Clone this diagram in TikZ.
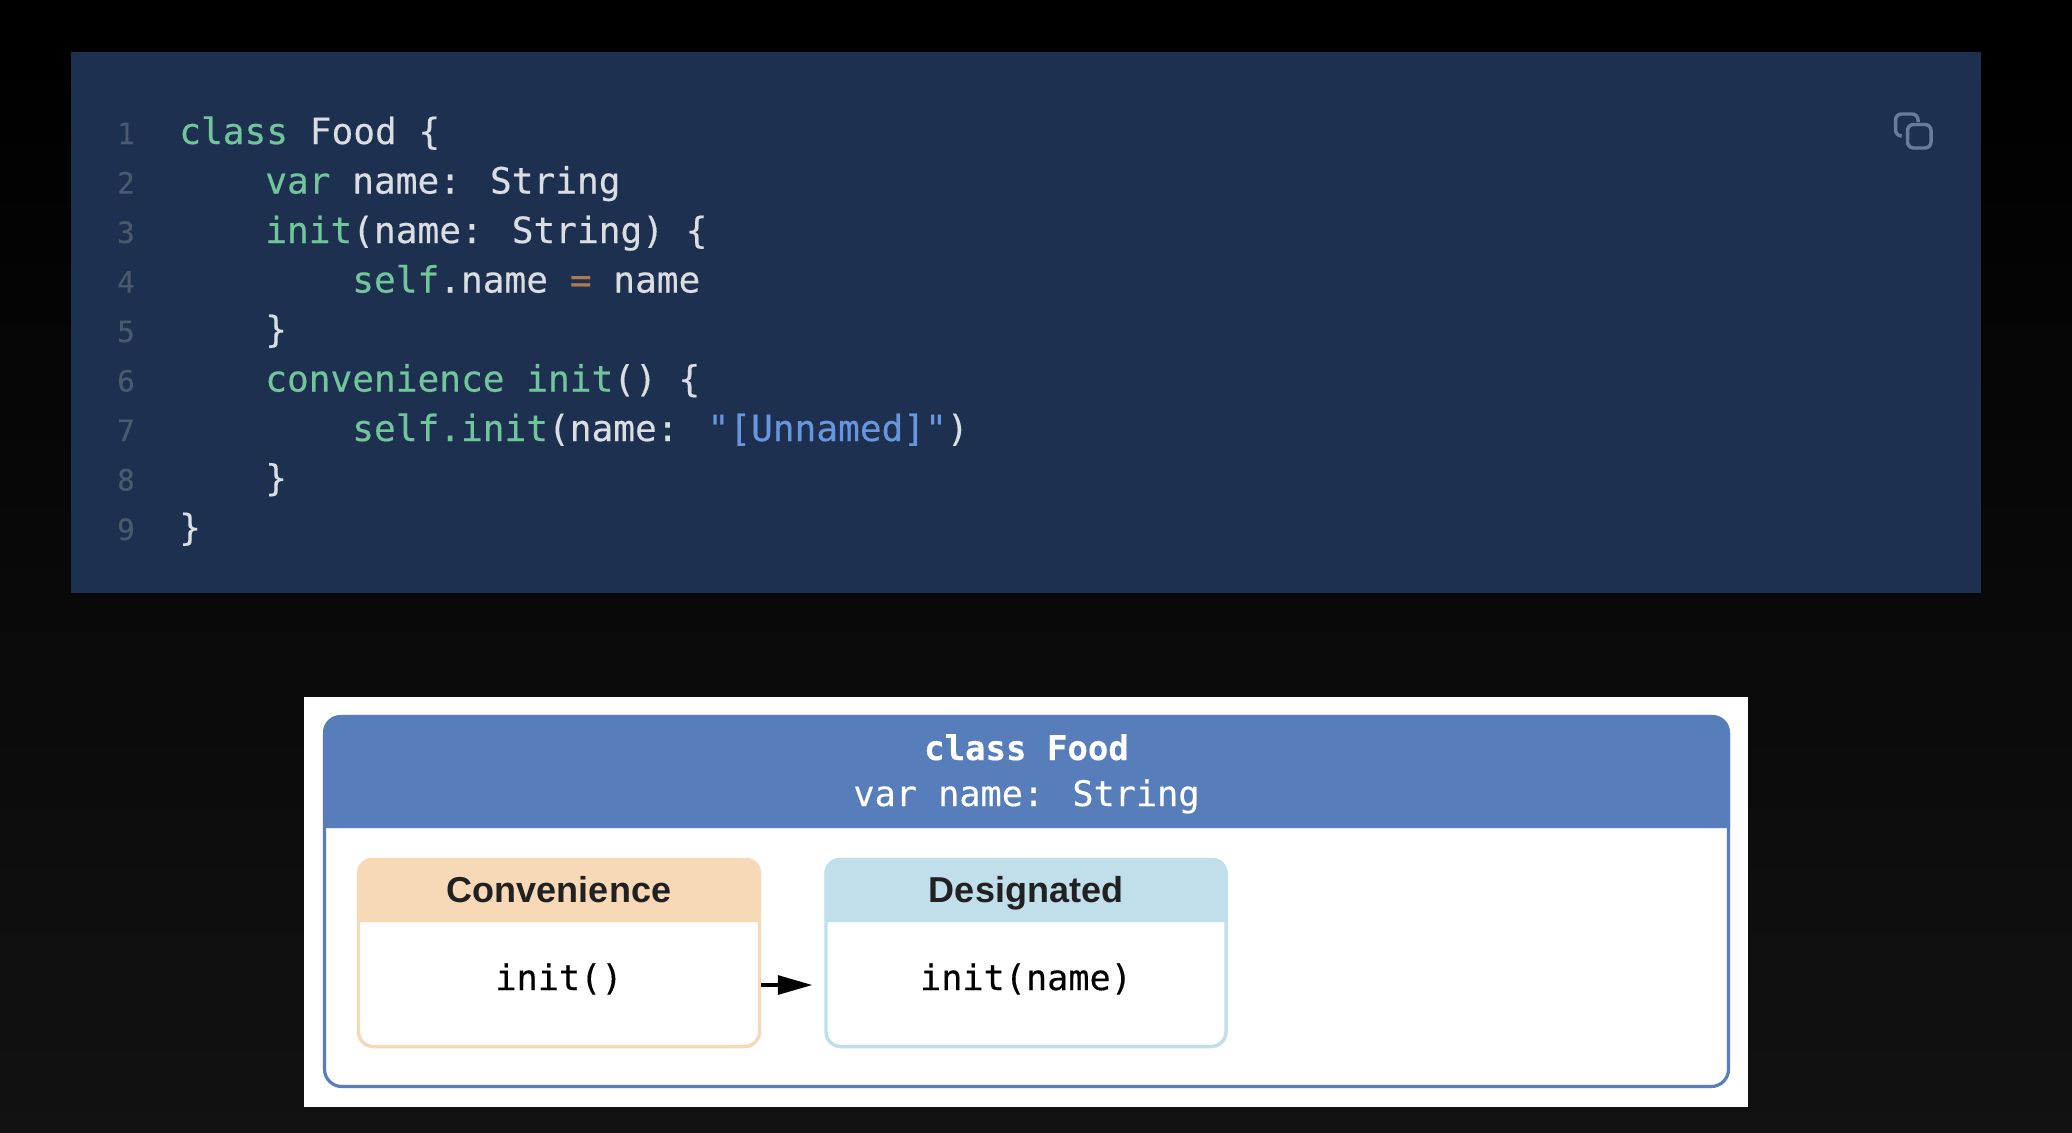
\documentclass[tikz,border=0pt]{standalone}
\usepackage{fontspec}
\usepackage{xcolor}
\usetikzlibrary{arrows.meta}
\newfontfamily\codefont[FakeBold=0.35]{DejaVu Sans Mono}
\newfontfamily\labelfont{Liberation Sans}
\definecolor{panelblue}{RGB}{30,48,80}
\definecolor{keygreen}{RGB}{113,197,155}
\definecolor{plaintext}{RGB}{218,222,226}
\definecolor{numgrey}{RGB}{76,88,108}
\definecolor{opbrown}{RGB}{176,122,80}
\definecolor{strblue}{RGB}{104,150,222}
\definecolor{iconblue}{RGB}{104,124,156}
\definecolor{headblue}{RGB}{87,125,186}
\definecolor{convfill}{RGB}{247,217,184}
\definecolor{desfill}{RGB}{193,223,234}
\tikzset{
  codeline/.style={anchor=base west,inner sep=0pt,font=\codefont\fontsize{27.1}{30}\selectfont,text=plaintext},
  linenum/.style={anchor=base,inner sep=0pt,font=\codefont\fontsize{22}{26}\selectfont,text=numgrey},
  headtext/.style={anchor=base,inner sep=0pt,text=white},
  boxtitle/.style={anchor=base,inner sep=0pt,font=\labelfont\bfseries\fontsize{27}{30}\selectfont,text=black!87},
  bodytext/.style={inner sep=0pt,outer sep=0pt,minimum width=303pt,text height=51pt,text depth=43.5pt,font=\codefont\fontsize{26.4}{30}\selectfont,text=black}
}
\begin{document}
\begin{tikzpicture}[x=0.75pt,y=0.75pt,yscale=-1,xscale=1]
\useasboundingbox (0,0) rectangle (2072,1132);

%Shape: Rectangle page
\fill [black] (0,0) rectangle (2072,1132);
\shade [top color=black,bottom color=black!93!white] (0,52) rectangle (2072,1132);
%Shape: Rectangle code panel
\fill [panelblue] (71,52) rectangle (1981,593);

%Code lines
\node (num1) at (126,144) [linenum] {1};
\node (num2) at (126,193.5) [linenum] {2};
\node (num3) at (126,243) [linenum] {3};
\node (num4) at (126,292.5) [linenum] {4};
\node (num5) at (126,342) [linenum] {5};
\node (num6) at (126,391.5) [linenum] {6};
\node (num7) at (126,441) [linenum] {7};
\node (num8) at (126,490.5) [linenum] {8};
\node (num9) at (126,540) [linenum] {9};
\node (line1) at (179,144) [codeline] {\textcolor{keygreen}{class} Food \{};
\node (line2) at (265,193.5) [codeline] {\textcolor{keygreen}{var} name: String};
\node (line3) at (265,243) [codeline] {\textcolor{keygreen}{init}(name: String) \{};
\node (line4) at (352,292.5) [codeline] {\textcolor{keygreen}{self}.name \textcolor{opbrown}{=} name};
\node (line5) at (265,342) [codeline] {\}};
\node (line6) at (265,391.5) [codeline] {\textcolor{keygreen}{convenience init}() \{};
\node (line7) at (352,441) [codeline] {\textcolor{keygreen}{self.init}(name: \textcolor{strblue}{"[Unnamed]"})};
\node (line8) at (265,490.5) [codeline] {\}};
\node (line9) at (179,540) [codeline] {\}};

%Shape: copy icon
\draw [iconblue,line width=2.6pt,rounded corners=4.5pt] (1907.5,124.5) rectangle (1931,148);
\draw [iconblue,line width=2.6pt,rounded corners=4.5pt] (1900,136) -- (1895.5,136) -- (1895.5,114) -- (1918,114) -- (1918,122);

%Shape: Rectangle white card
\fill [white] (304,697) rectangle (1748,1107);
%Shape: class frame
\draw [headblue,line width=2.4pt,rounded corners=13pt] (324.5,716.5) rectangle (1728.5,1086.5);
\fill [headblue] (323,828) [rounded corners=13pt] -- (323,715) -- (1730,715) [sharp corners] -- (1730,828) -- cycle;
\node (classname) at (1026.5,760) [headtext,font=\codefont\bfseries\fontsize{25.5}{30}\selectfont] {class Food};
\node (classvar) at (1026.5,806) [headtext,font=\codefont\fontsize{26.4}{30}\selectfont] {var name: String};

%Shape: convenience box
\draw [convfill,line width=2.6pt,rounded corners=11pt] (358.5,859.5) rectangle (759.5,1046.5);
\fill [convfill] (357,922) [rounded corners=11pt] -- (357,858) -- (761,858) [sharp corners] -- (761,922) -- cycle;
\node (convtitle) at (559,902) [boxtitle] {Convenience};
\node (convbody) at (559,985) [bodytext] {init()};

%Shape: designated box
\draw [desfill,line width=2.6pt,rounded corners=11pt] (826,859.5) rectangle (1226,1046.5);
\fill [desfill] (824.5,922) [rounded corners=11pt] -- (824.5,858) -- (1227.5,858) [sharp corners] -- (1227.5,922) -- cycle;
\node (destitle) at (1026,902) [boxtitle] {Designated};
\node (desbody) at (1026,985) [bodytext] {init(name)};

%Straight Lines
\draw [line width=3pt,-{Triangle[length=26pt,width=14pt]},shorten >=8.6pt] (convbody) -- (desbody);

\end{tikzpicture}
\end{document}
